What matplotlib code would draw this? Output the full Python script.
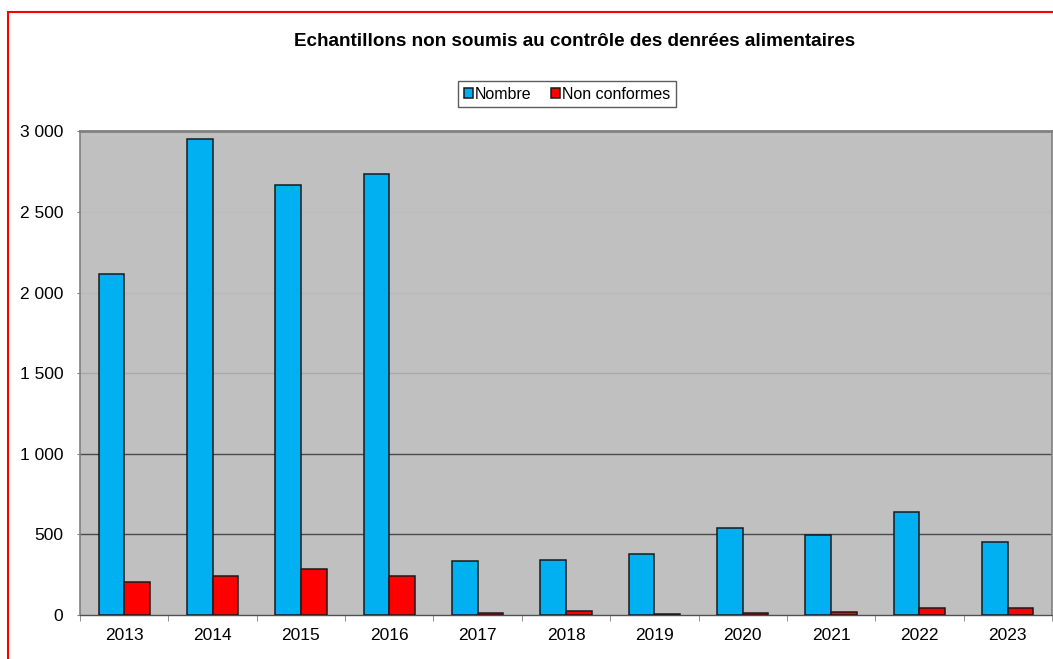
import matplotlib
matplotlib.use("Agg")
import matplotlib.pyplot as plt
import numpy as np
from matplotlib.patches import Rectangle
from matplotlib.ticker import FuncFormatter

plt.rcParams['font.family'] = ['Liberation Sans', 'DejaVu Sans']

# data
years = ['2013', '2014', '2015', '2016', '2017', '2018', '2019', '2020', '2021', '2022', '2023']
nombre = [2113, 2950, 2665, 2737, 335, 341, 376, 541, 494, 641, 455]
non_conformes = [205, 244, 283, 244, 10, 22, 3, 12, 18, 45, 45]
y_ticks = [0, 500, 1000, 1500, 2000, 2500, 3000]

fig = plt.figure(figsize=(10.53, 6.59), dpi=100)
ax = fig.add_axes([0.076, 0.0668, 0.923, 0.734])
ax.set_facecolor('#c0c0c0')

x = np.arange(len(years))
w = 0.29
ax.bar(x - w / 2, nombre, w, color='#00b0f0', edgecolor='#1a1a1a', linewidth=1.1,
       label='Nombre', zorder=3)
ax.bar(x + w / 2, non_conformes, w, color='#ff0000', edgecolor='#1a1a1a', linewidth=1.1,
       label='Non conformes', zorder=3)

# gridlines (some barely visible in the original)
grid_cols = {500: '#4a4a4a', 1000: '#4a4a4a', 1500: '#a9a9a9', 2000: '#bababa', 2500: '#bcbcbc'}
for v, c in grid_cols.items():
    ax.axhline(v, color=c, linewidth=1, zorder=1)

ax.set_xlim(-0.5, len(years) - 0.5)
ax.set_ylim(0, 3000)
ax.set_yticks(y_ticks)
ax.yaxis.set_major_formatter(FuncFormatter(lambda v, p: f"{int(v):,}".replace(",", " ")))
ax.set_xticks(x)
ax.set_xticklabels(years)
ax.set_xticks(np.arange(-0.5, len(years)), minor=True)

ax.tick_params(axis='x', which='major', length=0, pad=9.5, labelsize=12.5)
ax.tick_params(axis='x', which='minor', length=4, color='#808080', direction='out')
ax.tick_params(axis='y', length=2.5, color='#808080', pad=9.5, labelsize=12.5)

for s in ['left', 'right', 'top']:
    ax.spines[s].set_color('#808080')
    ax.spines[s].set_linewidth(1.2)
ax.spines['top'].set_linewidth(2)
ax.spines['bottom'].set_color('#505050')
ax.spines['bottom'].set_linewidth(1)

fig.text(0.5455, 0.937, "Echantillons non soumis au contrôle des denrées alimentaires",
         ha='center', va='center', fontsize=13.6, fontweight='bold')

leg = ax.legend(loc='center', bbox_to_anchor=(0.5385, 0.857), bbox_transform=fig.transFigure,
                ncol=2, fontsize=11.5, frameon=True, fancybox=False, handlelength=0.6,
                handleheight=0.6, handletextpad=0.1, columnspacing=1.2, borderpad=0.35)
leg.get_frame().set_edgecolor('#333333')
leg.get_frame().set_linewidth(1)

# red border around the whole chart (cut at right/bottom)
fig.add_artist(Rectangle((7.7 / 1053, -0.2), 1.2, 0.2 + 1 - 12.3 / 659,
                         transform=fig.transFigure, fill=False, edgecolor='#ff0000',
                         linewidth=1.5))

fig.savefig('out.png', dpi=100)
